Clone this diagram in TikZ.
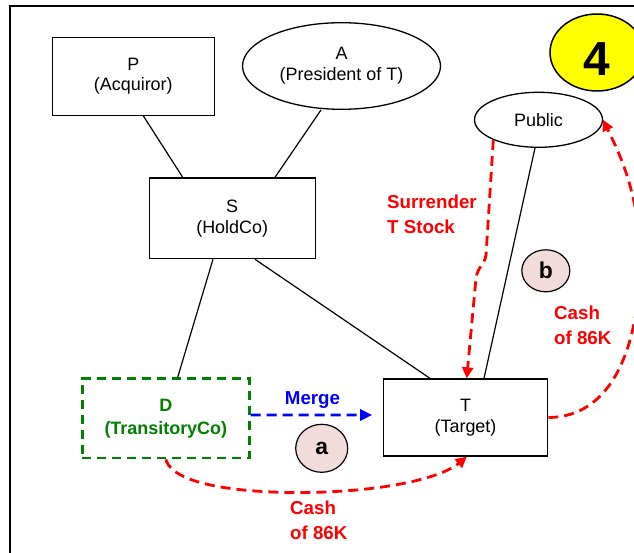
\documentclass[tikz,border=0pt]{standalone}
\usepackage{fontspec}
\setmainfont{Liberation Sans}
\usetikzlibrary{arrows.meta,shapes.geometric}
\definecolor{myred}{RGB}{255,0,0}
\definecolor{mygreen}{RGB}{0,128,0}
\definecolor{myblue}{RGB}{0,0,255}
\definecolor{pinkfill}{RGB}{242,220,219}
\definecolor{yel}{RGB}{255,255,0}
\begin{document}
\begin{tikzpicture}[x=1bp,y=-1bp,
  box/.style={draw=black,line width=1.3bp,inner sep=0,align=center,font=\fontsize{18}{21}\selectfont},
  oval/.style={ellipse,draw=black,line width=1.3bp,inner sep=0,align=center,font=\fontsize{18}{21}\selectfont},
  tie/.style={draw=black,line width=1.2bp},
  flow/.style={draw=myred,line width=2.8bp,dash pattern=on 10bp off 6bp,-{Triangle[length=11bp,width=11bp]}},
  lab/.style={text=myred,font=\bfseries\fontsize{18.8}{25}\selectfont,align=left,inner sep=0,anchor=west},
  stepmark/.style={ellipse,draw=black,line width=1.2bp,fill=pinkfill,inner sep=0,font=\bfseries\fontsize{23}{23}\selectfont}
]
\useasboundingbox (0,0) rectangle (634,553);
\clip (0,0) rectangle (634,553);
\fill[white] (0,0) rectangle (634,553);
\draw[line width=2bp] (10,6) rectangle (650,570);

% badge
\node[ellipse,draw=black,fill=yel,line width=1.5bp,minimum width=94bp,minimum height=77bp,inner sep=0] (badge) at (597,52.5) {};
\node[font=\bfseries\fontsize{48}{48}\selectfont,inner sep=0] (badgenum) at (597,59) {4};

% entities
\node[box,minimum width=162bp,minimum height=78bp] (P) at (133.3,76.2) {P\\(Acquiror)};
\node[oval,minimum width=198bp,minimum height=86.6bp] (A) at (341.5,66) {A\\(President of T)};
\node[oval,minimum width=128bp,minimum height=55bp] (Pub) at (538.5,119.8) {Public};
\node[box,minimum width=166bp,minimum height=80.7bp] (S) at (232.2,218.3) {S\\(HoldCo)};
\node[box,draw=mygreen,text=mygreen,line width=2.8bp,dash pattern=on 9bp off 6bp,font=\bfseries\fontsize{18}{23}\selectfont,minimum width=167bp,minimum height=79.3bp] (D) at (165.8,418.3) {D\\(TransitoryCo)};
\node[box,minimum width=164.3bp,minimum height=77bp] (T) at (465.5,417.5) {T\\(Target)};

% ownership lines
\draw[tie] ([xshift=10bp]P.south) -- ([xshift=-49.5bp]S.north);
\draw[tie] ([xshift=-20.5bp]A.south) -- ([xshift=42.8bp]S.north);
\draw[tie] ([xshift=-19.2bp]S.south) -- ([xshift=11.9bp]D.north);
\draw[tie] ([xshift=22.8bp]S.south) -- ([xshift=-35.5bp]T.north);
\draw[tie] ([xshift=-3.5bp]Pub.south) -- ([xshift=18.5bp]T.north);

% step markers
\node[stepmark,minimum width=52bp,minimum height=48bp] (sa) at (321.7,448.3) {a};
\node[stepmark,minimum width=48bp,minimum height=42bp] (sb) at (545.8,270.8) {b};

% flows
\draw[flow,draw=myblue,-{Triangle[length=12bp,width=11bp]}]
  ([yshift=3.3bp]D.east) -- ([xshift=-10.5bp,yshift=2.5bp]T.west);
\node[font=\bfseries\fontsize{18.8}{25}\selectfont,text=myblue,inner sep=0,anchor=base] (merge) at (312.5,404) {Merge};

\draw[flow] (Pub.204) -- (486,255) .. controls (484.5,265) and (478,266) .. (476,278) -- ([xshift=1.2bp]T.north);
\node[lab] (surr) at (387,214) {Surrender\\T Stock};

\draw[flow] (T.east) .. controls (620,417) and (640,330) .. (640,260) .. controls (640,190) and (615,145) .. (Pub.east);
\node[lab] (cashr) at (554,325) {Cash\\of 86K};

\draw[flow] (D.south) .. controls (175,492) and (280,494) .. (325,492) .. controls (400,489) and (445,475) .. ([xshift=1.2bp]T.south);
\node[lab] (cashb) at (290,520.3) {Cash\\of 86K};
\end{tikzpicture}
\end{document}
